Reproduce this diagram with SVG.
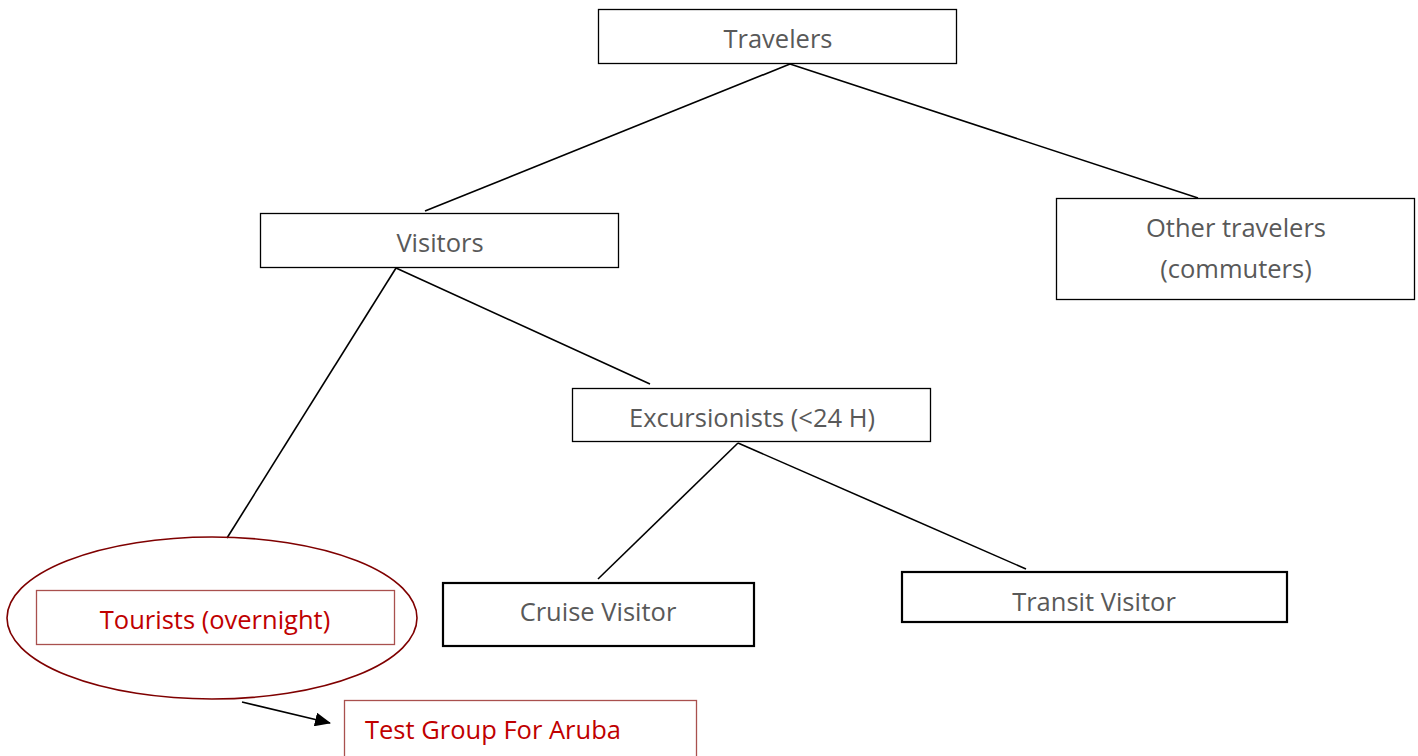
<svg xmlns="http://www.w3.org/2000/svg" width="1418" height="756" viewBox="0 0 1418 756">
<defs>
<style>
.box{fill:#fff;stroke:#000;stroke-width:1.3}
.boxb{fill:#fff;stroke:#000;stroke-width:2.2}
.rbox{fill:#fff;stroke:#A9504E;stroke-width:1.3}
.t{font-family:"Open Sans","Noto Sans",sans-serif;font-size:25.5px;fill:#595959;text-anchor:middle}
.r{fill:#C00000}
.ln{stroke:#000;stroke-width:1.6;fill:none}
</style>
<marker id="ah" viewBox="0 0 16 14" refX="15" refY="7" markerWidth="16" markerHeight="14" orient="auto" markerUnits="userSpaceOnUse">
<path d="M0,0 L16,7 L0,14 Z" fill="#000"/>
</marker>
</defs>
<rect width="1418" height="756" fill="#fff"/>
<g id="connectors">
<line class="ln" x1="242" y1="702" x2="330" y2="723" marker-end="url(#ah)"/>
<line class="ln" x1="790" y1="64" x2="425" y2="211"/>
<line class="ln" x1="790" y1="64" x2="1198" y2="198"/>
<line class="ln" x1="396" y1="268" x2="227" y2="538"/>
<line class="ln" x1="396" y1="268" x2="650" y2="384"/>
<line class="ln" x1="738" y1="443" x2="598" y2="579"/>
<line class="ln" x1="738" y1="443" x2="1026" y2="569"/>
</g>
<g id="travelers">
<rect class="box" x="598.5" y="9.5" width="358" height="54"/>
<text class="t" x="778" y="48">Travelers</text>
</g>
<g id="visitors">
<rect class="box" x="260.5" y="213.5" width="358" height="54"/>
<text class="t" x="440" y="252">Visitors</text>
</g>
<g id="other">
<rect class="box" x="1056.5" y="198.5" width="358" height="101"/>
<text class="t" x="1236" y="237">Other travelers</text>
<text class="t" x="1236" y="278">(commuters)</text>
</g>
<g id="excursionists">
<rect class="box" x="572.5" y="388.5" width="358" height="53"/>
<text class="t" x="752" y="427">Excursionists (&lt;24 H)</text>
</g>
<g id="cruise">
<rect class="boxb" x="443" y="583" width="311" height="63"/>
<text class="t" x="598" y="621">Cruise Visitor</text>
</g>
<g id="transit">
<rect class="boxb" x="902" y="572" width="385" height="50"/>
<text class="t" x="1094" y="611">Transit Visitor</text>
</g>
<g id="tourists">
<ellipse cx="212" cy="618" rx="205" ry="81" fill="none" stroke="#7F0000" stroke-width="1.6"/>
<rect class="rbox" x="36.5" y="590.5" width="358" height="54"/>
<text class="t r" x="215" y="629">Tourists (overnight)</text>
</g>
<g id="testgroup">
<rect class="rbox" x="344.5" y="700.5" width="352" height="60"/>
<text class="t r" x="365" y="739" style="text-anchor:start">Test Group For Aruba</text>
</g>
</svg>
